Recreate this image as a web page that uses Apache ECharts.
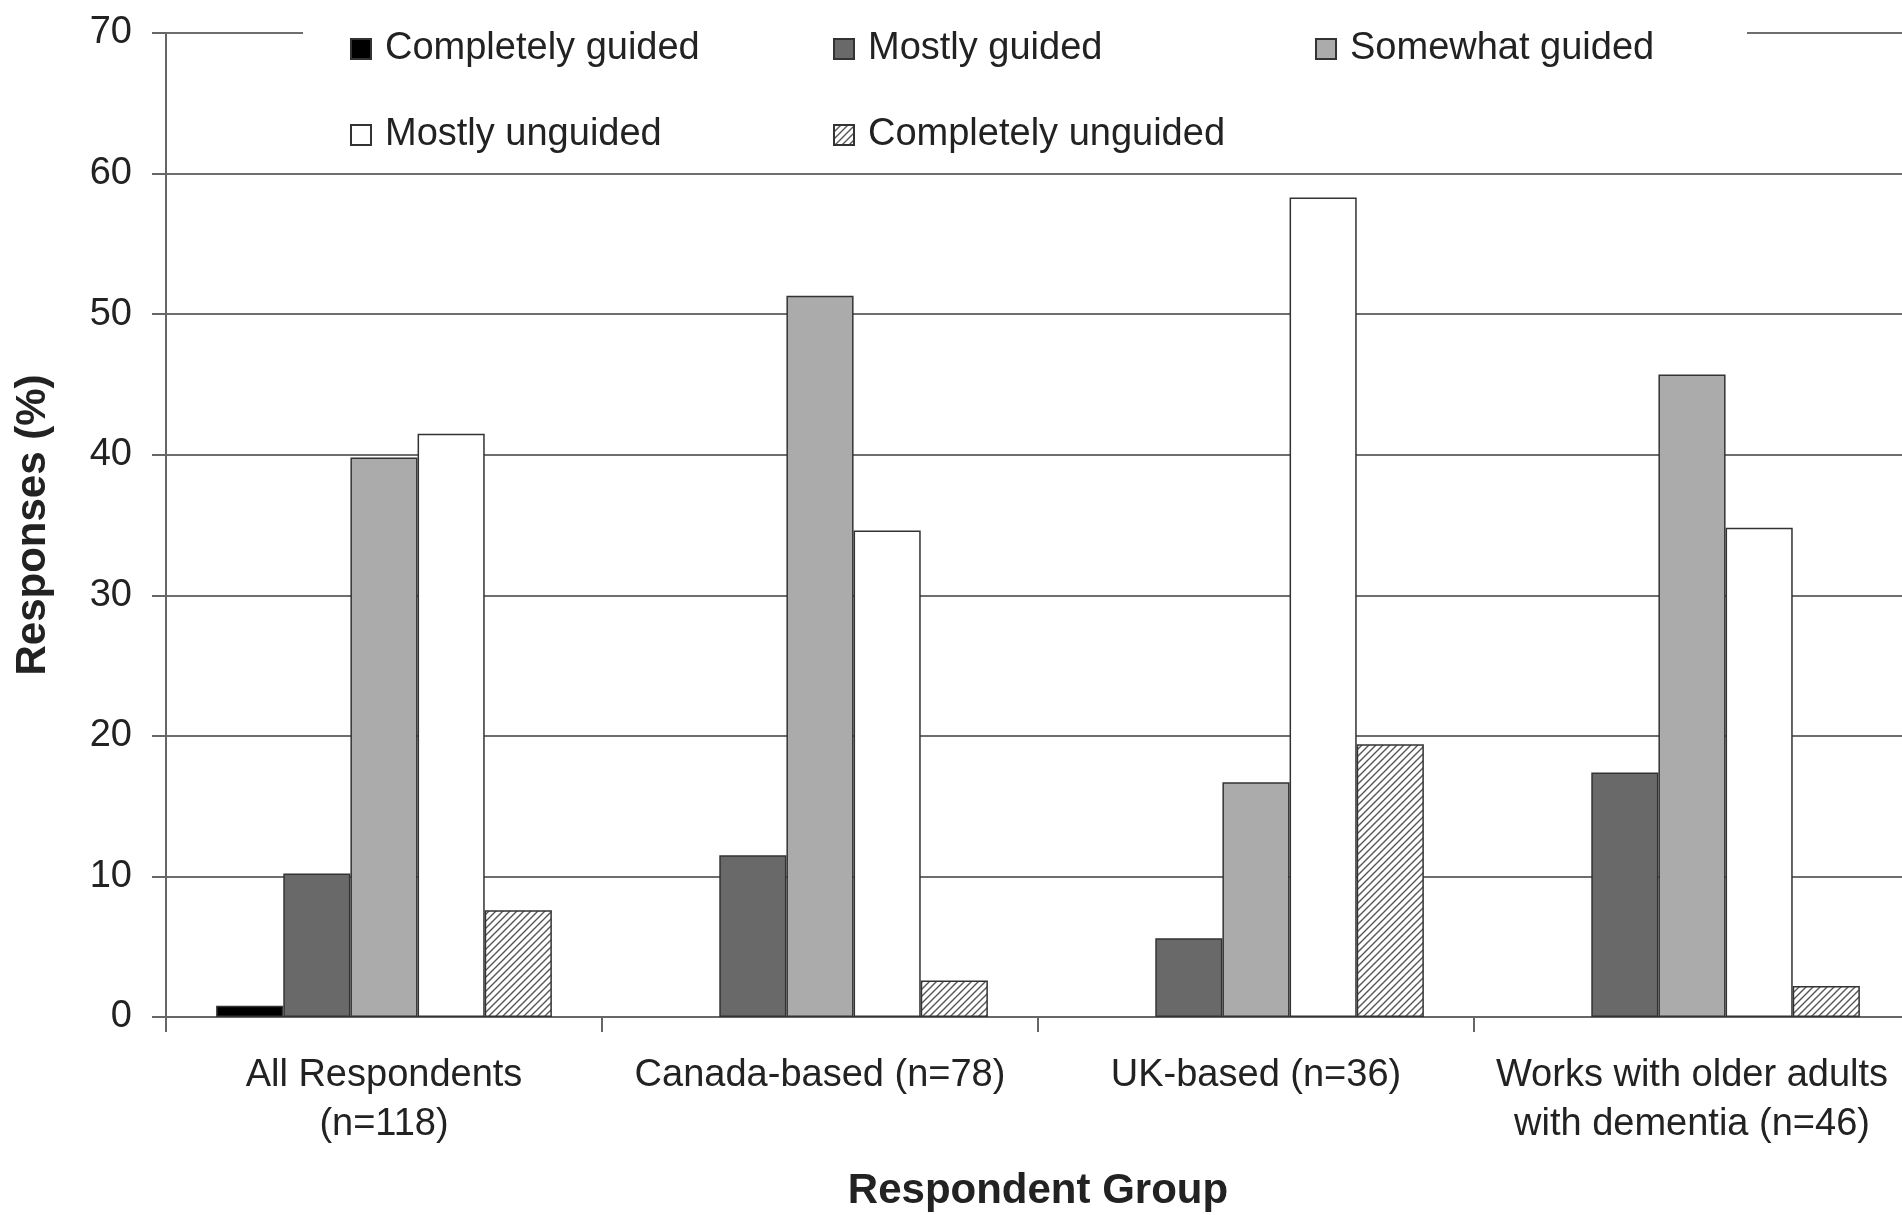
<!DOCTYPE html>
<html>
<head>
<meta charset="utf-8">
<script src="https://cdn.jsdelivr.net/npm/echarts@6/dist/echarts.min.js"></script>
<style>
html,body{margin:0;padding:0;background:#fff;}
#chart{width:1902px;height:1215px;}
</style>
</head>
<body>
<div id="chart"></div>
<script>
// ---- data ----
const categories = ['All Respondents\n(n=118)', 'Canada-based (n=78)', 'UK-based (n=36)', 'Works with older adults\nwith dementia (n=46)'];
const seriesNames = ['Completely guided', 'Mostly guided', 'Somewhat guided', 'Mostly unguided', 'Completely unguided'];
const completelyGuided   = [0.8, 0, 0, 0];
const mostlyGuided       = [10.2, 11.5, 5.6, 17.4];
const somewhatGuided     = [39.8, 51.3, 16.7, 45.7];
const mostlyUnguided     = [41.5, 34.6, 58.3, 34.8];
const completelyUnguided = [7.6, 2.6, 19.4, 2.2];
const yTicks = [0, 10, 20, 30, 40, 50, 60, 70];

// hatch pattern
function makeHatch() {
  const s = 7;
  const c = document.createElement('canvas');
  c.width = s; c.height = s;
  const g = c.getContext('2d');
  g.fillStyle = '#ffffff';
  g.fillRect(0, 0, s, s);
  g.strokeStyle = '#555555';
  g.lineWidth = 1.4;
  g.beginPath();
  g.moveTo(-1, s + 1); g.lineTo(s + 1, -1);
  g.moveTo(-1, 1); g.lineTo(1, -1);
  g.moveTo(s - 1, s + 1); g.lineTo(s + 1, s - 1);
  g.stroke();
  return c;
}
const hatch = { image: makeHatch(), repeat: 'repeat' };

const fills = ['#000000', '#696969', '#ababab', '#ffffff', hatch];
const values = [completelyGuided, mostlyGuided, somewhatGuided, mostlyUnguided, completelyUnguided];

const FONT = '"Liberation Sans", Arial, Helvetica, sans-serif';
const TXT = '#222222';

const chart = echarts.init(document.getElementById('chart'), null, {renderer: 'canvas'});

const legendPos = [
  {left: 345, top: 25},
  {left: 828, top: 25},
  {left: 1310, top: 25},
  {left: 345, top: 111},
  {left: 828, top: 111}
];

const option = {
  backgroundColor: '#ffffff',
  animation: false,
  textStyle: {fontFamily: FONT},
  grid: {left: 166, top: 33, width: 1744, height: 984, containLabel: false, outerBoundsMode: 'none'},
  graphic: [{
    type: 'rect', z: 1,
    shape: {x: 303, y: 0, width: 1444, height: 160},
    style: {fill: '#ffffff'}
  }],
  legend: seriesNames.map((n, i) => ({
    data: [n],
    left: legendPos[i].left,
    top: legendPos[i].top,
    z: 5,
    icon: 'rect',
    itemWidth: 20, itemHeight: 20,
    itemGap: 0,
    selectedMode: false,
    textStyle: {fontFamily: FONT, fontSize: 38, color: TXT, padding: [0, 0, 0, 9]}
  })),
  xAxis: {
    type: 'category',
    data: categories,
    name: 'Respondent Group',
    nameLocation: 'middle',
    nameGap: 153,
    nameTextStyle: {fontFamily: FONT, fontSize: 42, fontWeight: 'bold', color: TXT},
    axisLine: {lineStyle: {color: '#666666', width: 2}},
    axisTick: {show: true, length: 15, lineStyle: {color: '#666666', width: 2}},
    axisLabel: {interval: 0, fontFamily: FONT, fontSize: 38, color: TXT, lineHeight: 49, margin: 34}
  },
  yAxis: {
    type: 'value',
    min: 0, max: 70, interval: 10,
    name: 'Responses (%)',
    nameLocation: 'middle',
    nameGap: 112,
    nameRotate: 90,
    nameTextStyle: {fontFamily: FONT, fontSize: 42, fontWeight: 'bold', color: TXT},
    axisLine: {show: true, lineStyle: {color: '#666666', width: 2}},
    axisTick: {show: true, length: 14, lineStyle: {color: '#666666', width: 2}},
    axisLabel: {fontFamily: FONT, fontSize: 38, color: TXT, margin: 34,
      formatter: v => yTicks.includes(v) ? String(v) : ''},
    splitLine: {show: true, lineStyle: {color: '#6e6e6e', width: 2}}
  },
  series: seriesNames.map((n, i) => ({
    name: n,
    type: 'bar',
    data: values[i].map(v => (v === 0 ? '-' : v)),
    barGap: '0%',
    barCategoryGap: '23%',
    z: 3,
    itemStyle: {color: fills[i], borderColor: '#333333', borderWidth: 1.5}
  }))
};
chart.setOption(option);
</script>
</body>
</html>
